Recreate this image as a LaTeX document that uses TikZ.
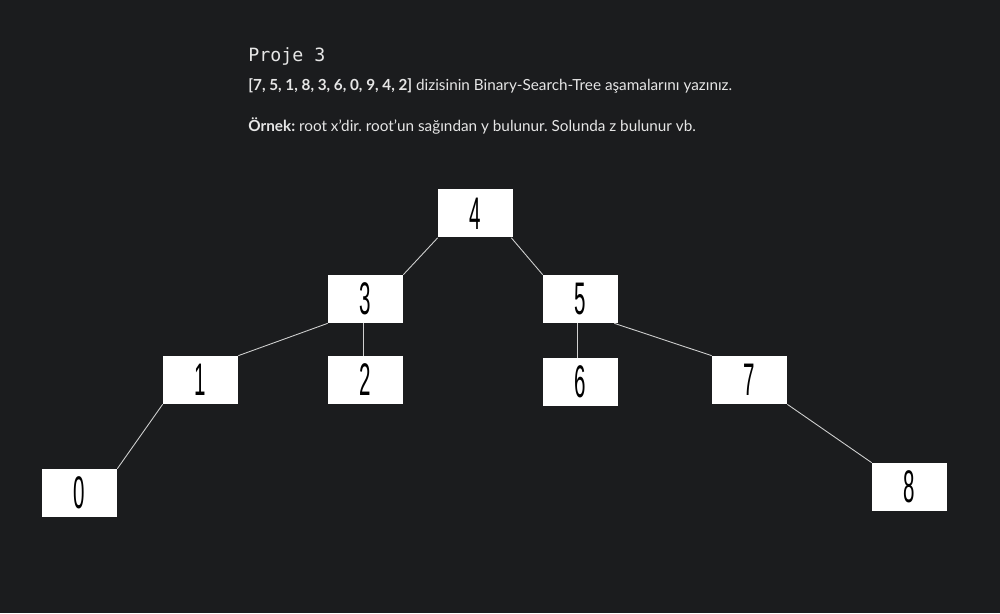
\documentclass[tikz,border=0pt]{standalone}
\usepackage{fontspec,xcolor,tikz}
\setmainfont{Lato}
\newfontfamily\digitfont[FakeStretch=0.45]{Liberation Sans}
\newfontfamily\codefont{DejaVu Sans Mono}
\definecolor{bgdark}{HTML}{1B1C1E}
\definecolor{textlight}{HTML}{E6E6E6}
\definecolor{edgegray}{HTML}{D0D0D0}

\begin{document}
\begin{tikzpicture}[
  treenode/.style={fill=white, minimum width=1.5cm, minimum height=0.96cm,
    inner sep=0pt, font=\digitfont\fontsize{26}{26}\selectfont, text=black},
  edge/.style={edgegray, line width=0.5pt},
  caption/.style={anchor=base west, inner sep=0pt, text=textlight}]
  \fill[bgdark] (0,0) rectangle (20,12.26);
  \useasboundingbox (0,0) rectangle (20,12.26);

  % heading
  \node[caption, font=\codefont\fontsize{10.4}{12}\selectfont] (title) at (4.96,11.02) {Proje 3};
  \node[caption, font=\fontsize{8.7}{10}\selectfont] (task) at (4.96,10.44)
    {\frenchspacing\textbf{[7, 5, 1, 8, 3, 6, 0, 9, 4, 2]} dizisinin Binary-Search-Tree aşamalarını yazınız.};
  \node[caption, font=\fontsize{8.7}{10}\selectfont] (hint) at (4.96,9.62)
    {\frenchspacing\textbf{Örnek:} root x'dir. root'un sağından y bulunur. Solunda z bulunur vb.};

  % tree
  \node[treenode] (n4) at (9.51,7.99) {4};
  \node[treenode] (n3) at (7.31,6.28) {3};
  \node[treenode] (n5) at (11.61,6.28) {5};
  \node[treenode] (n1) at (4.01,4.66) {1};
  \node[treenode] (n2) at (7.31,4.66) {2};
  \node[treenode] (n6) at (11.61,4.62) {6};
  \node[treenode] (n7) at (14.99,4.66) {7};
  \node[treenode] (n0) at (1.59,2.40) {0};
  \node[treenode] (n8) at (18.19,2.52) {8};

  \draw[edge] (n4.south west) -- (n3.north east);
  \draw[edge] ([xshift=-0.04cm]n4.south east) -- (n5.north west);
  \draw[edge] (n3.south west) -- (n1.north east);
  \draw[edge] ([xshift=-0.05cm]n3.south) -- ([xshift=-0.05cm]n2.north);
  \draw[edge] ([xshift=-0.07cm]n5.south) -- ([xshift=-0.07cm]n6.north);
  \draw[edge] ([xshift=-0.08cm]n5.south east) -- (n7.north west);
  \draw[edge] (n1.south west) -- (n0.north east);
  \draw[edge] (n7.south east) -- (n8.north west);
\end{tikzpicture}
\end{document}
